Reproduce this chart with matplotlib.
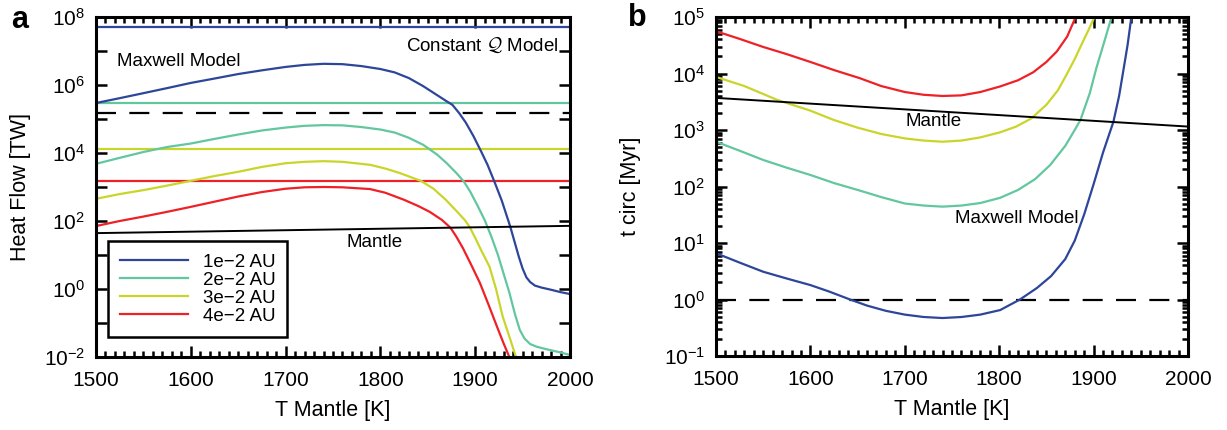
import matplotlib
matplotlib.use("Agg")
import matplotlib.pyplot as plt
from matplotlib.ticker import FixedLocator, MultipleLocator, LogLocator, NullFormatter, LogFormatterSciNotation
import numpy as np

plt.rcParams['font.family'] = ['Liberation Sans', 'DejaVu Sans']
plt.rcParams['mathtext.fontset'] = 'custom'
plt.rcParams['mathtext.rm'] = 'Liberation Sans'
plt.rcParams['mathtext.it'] = 'Liberation Sans:italic'
plt.rcParams['mathtext.bf'] = 'Liberation Sans:bold'

# ---------------- data ----------------
labels = ["1e\u22122 AU", "2e\u22122 AU", "3e\u22122 AU", "4e\u22122 AU"]
colors = ["#2d4699", "#62c79f", "#cad52a", "#ee2126"]

# Panel a: heat flow [TW]
const_q = [5.1e7, 2.9e5, 1.3e4, 1.5e3]
dashed_a = 1.5e5

T_a1 = [1500, 1525, 1550, 1575, 1600, 1625, 1650, 1675, 1700, 1720, 1740, 1760, 1780, 1800,
        1815, 1830, 1845, 1860, 1870, 1876, 1883, 1890, 1898, 1906, 1913, 1920, 1928, 1937,
        1942, 1946, 1950, 1954, 1958, 1963, 1970, 1980, 1990, 2000]
H_a1 = [2.95e5, 4.1e5, 5.75e5, 8.1e5, 1.15e6, 1.55e6, 2.1e6, 2.7e6, 3.4e6, 3.9e6, 4.2e6, 4.1e6,
        3.6e6, 2.95e6, 2.35e6, 1.6e6, 9.3e5, 5.0e5, 3.3e5, 2.6e5, 1.5e5, 7.9e4, 3.2e4, 1.15e4,
        4.5e3, 1.5e3, 400, 68, 22, 8.9, 4.0, 2.2, 1.6, 1.26, 1.1, 0.95, 0.81, 0.71]

T_a2 = [1500, 1525, 1550, 1575, 1600, 1625, 1650, 1675, 1700, 1720, 1740, 1760, 1780, 1800,
        1815, 1830, 1845, 1860, 1870, 1880, 1888, 1895, 1902, 1910, 1917, 1924, 1930, 1936,
        1942, 1947, 1952, 1958, 1965, 1975, 1988, 2000]
H_a2 = [4.8e3, 7.2e3, 1.07e4, 1.5e4, 1.9e4, 2.6e4, 3.5e4, 4.6e4, 5.6e4, 6.3e4, 6.6e4, 6.5e4,
        5.8e4, 4.9e4, 4.0e4, 2.8e4, 1.75e4, 8.9e3, 5.0e3, 2.6e3, 1.45e3, 710, 300, 107, 35, 10,
        2.8, 0.79, 0.18, 0.063, 0.035, 0.024, 0.02, 0.017, 0.014, 0.0115]

T_a3 = [1500, 1525, 1550, 1575, 1599, 1625, 1650, 1675, 1700, 1720, 1740, 1760, 1789, 1805,
        1820, 1843, 1856, 1869, 1880, 1889, 1894, 1900, 1907, 1915, 1922, 1929, 1936, 1943, 1946]
H_a3 = [450, 620, 810, 1.1e3, 1.5e3, 2.1e3, 2.8e3, 3.9e3, 5.0e3, 5.5e3, 5.75e3, 5.5e3, 4.5e3,
        3.5e3, 2.6e3, 1.5e3, 890, 420, 200, 107, 68, 32, 12.6, 4.6, 1.0, 0.155, 0.04, 0.01, 0.005]

T_a4 = [1500, 1525, 1550, 1575, 1599, 1625, 1650, 1675, 1700, 1720, 1740, 1760, 1789, 1805,
        1825, 1840, 1852, 1865, 1874, 1880, 1887, 1896, 1905, 1914, 1923, 1930, 1936, 1939]
H_a4 = [71, 100, 135, 186, 257, 370, 525, 710, 890, 980, 1.0e3, 980, 870, 680, 420, 275, 186,
        107, 63, 35, 16, 5.0, 1.5, 0.35, 0.078, 0.025, 0.01, 0.005]

T_mantle = [1500, 2000]
H_mantle = [44, 72]

# Panel b: circularisation time [Myr]
T_b1 = [1500, 1525, 1550, 1575, 1600, 1620, 1642, 1660, 1680, 1700, 1720, 1740, 1760, 1780,
        1801, 1822, 1840, 1855, 1870, 1880, 1890, 1900, 1910, 1921, 1927, 1932, 1936, 1940]
C_b1 = [6.6, 4.5, 3.1, 2.35, 1.8, 1.38, 1.0, 0.78, 0.63, 0.54, 0.49, 0.47, 0.49, 0.54, 0.65,
        1.0, 1.6, 2.6, 5.2, 11, 32, 110, 400, 1.4e3, 4.0e3, 1.26e4, 3.2e4, 1e5]

T_b2 = [1500, 1525, 1550, 1575, 1600, 1625, 1650, 1675, 1700, 1720, 1740, 1760, 1780, 1801,
        1820, 1838, 1854, 1870, 1880, 1886, 1896, 1903, 1911, 1919]
C_b2 = [620, 430, 295, 215, 160, 115, 87, 65, 50, 46, 44, 46, 51, 63, 87, 135, 240, 525, 1.0e3,
        1.5e3, 4.5e3, 1.26e4, 3.5e4, 1e5]

T_b3 = [1500, 1530, 1565, 1600, 1625, 1650, 1675, 1700, 1720, 1740, 1760, 1780, 1801, 1818,
        1834, 1850, 1862, 1871, 1880, 1887, 1894, 1901]
C_b3 = [8.7e3, 6.0e3, 3.4e3, 2.2e3, 1.5e3, 1.1e3, 850, 710, 650, 620, 650, 740, 910, 1.15e3,
        1.6e3, 2.8e3, 5.0e3, 9.3e3, 1.8e4, 3.2e4, 5.6e4, 1e5]

T_b4 = [1500, 1525, 1550, 1575, 1600, 1625, 1652, 1675, 1700, 1720, 1740, 1760, 1780, 1801,
        1820, 1836, 1850, 1861, 1872, 1881]
C_b4 = [5.6e4, 4.1e4, 2.95e4, 2.2e4, 1.6e4, 1.15e4, 8.3e3, 6.0e3, 4.7e3, 4.2e3, 4.0e3, 4.1e3,
        4.7e3, 5.9e3, 7.6e3, 1.05e4, 1.6e4, 2.45e4, 4.5e4, 1e5]

C_mantle = [3700, 1150]
dashed_b = 1.0

# ---------------- figure ----------------
fig = plt.figure(figsize=(12.27, 4.30), dpi=100)
ax1 = fig.add_axes([96/1227, 1-357/430, 474/1227, 340/430])
ax2 = fig.add_axes([716/1227, 1-356/430, 472/1227, 339/430])

lw = 1.6
# Panel a
for c, q in zip(colors, const_q):
    ax1.axhline(q, color=c, lw=lw)
ax1.axhline(dashed_a, color='black', lw=1.6, ls=(0, (9, 6)))
handles = []
for T, H, c, lab in zip([T_a1, T_a2, T_a3, T_a4], [H_a1, H_a2, H_a3, H_a4], colors, labels):
    h, = ax1.plot(T, H, color=c, lw=lw, label=lab, solid_joinstyle='round')
    handles.append(h)
ax1.plot(T_mantle, H_mantle, color='black', lw=1.4)

ax1.set_yscale('log')
ax1.set_xlim(1500, 2000)
ax1.set_ylim(1e-2, 1e8)
ax1.yaxis.set_major_locator(FixedLocator([10.0**k for k in range(-2, 9, 2)]))
ax1.yaxis.set_minor_locator(FixedLocator([10.0**k for k in range(-1, 8, 2)]))
ax1.yaxis.set_major_formatter(LogFormatterSciNotation())
ax1.yaxis.set_minor_formatter(NullFormatter())

ax1.text(0.175, 0.868, "Maxwell Model", transform=ax1.transAxes, ha='center', va='center', fontsize=13.5)
ax1.text(0.975, 0.918, r"Constant $\mathcal{Q}$ Model", transform=ax1.transAxes, ha='right', va='center',
         fontsize=13.5, math_fontfamily='cm')
ax1.text(0.587, 0.338, "Mantle", transform=ax1.transAxes, ha='center', va='center', fontsize=13.5)

leg = ax1.legend(handles=handles, loc='lower left', bbox_to_anchor=(0.025, 0.059), borderaxespad=0,
                 fontsize=13.5, frameon=True, fancybox=False, handlelength=3.6, handletextpad=0.8,
                 labelspacing=0.05, borderpad=0.65)
leg.get_frame().set_edgecolor('black')
leg.get_frame().set_linewidth(1.8)
leg.get_frame().set_alpha(1)

# Panel b
ax2.axhline(dashed_b, color='black', lw=1.6, ls=(0, (9, 6)))
for T, C, c in zip([T_b1, T_b2, T_b3, T_b4], [C_b1, C_b2, C_b3, C_b4], colors):
    ax2.plot(T, C, color=c, lw=lw, solid_joinstyle='round')
ax2.plot(T_mantle, C_mantle, color='black', lw=1.4)
ax2.set_yscale('log')
ax2.set_xlim(1500, 2000)
ax2.set_ylim(1e-1, 1e5)
ax2.yaxis.set_major_locator(LogLocator(base=10, numticks=20))
ax2.yaxis.set_minor_locator(LogLocator(base=10, subs=np.arange(2, 10), numticks=20))
ax2.yaxis.set_minor_formatter(NullFormatter())
ax2.text(0.46, 0.693, "Mantle", transform=ax2.transAxes, ha='center', va='center', fontsize=13.5)
ax2.text(0.638, 0.407, "Maxwell Model", transform=ax2.transAxes, ha='center', va='center', fontsize=13.5)

for ax in (ax1, ax2):
    ax.xaxis.set_major_locator(MultipleLocator(100))
    ax.xaxis.set_minor_locator(MultipleLocator(10))
    for s in ax.spines.values():
        s.set_linewidth(2.2)
    ax.tick_params(which='both', direction='in', top=True, right=True, width=1.8, labelsize=15)
    ax.tick_params(which='major', length=8)
    ax.tick_params(which='minor', length=4)
    ax.tick_params(axis='x', pad=10)
    ax.tick_params(axis='y', pad=8)
    ax.set_xlabel("T Mantle [K]", fontsize=15.5, labelpad=7)

ax1.tick_params(axis='y', which='minor', length=8)
ax1.set_ylabel("Heat Flow [TW]", fontsize=15.5, labelpad=9)
ax2.set_ylabel("t circ [Myr]", fontsize=15.5, labelpad=16)

fig.text(20/1227, 1-20/430, "a", fontsize=22, fontweight='bold', ha='center', va='center')
fig.text(637/1227, 1-18/430, "b", fontsize=22, fontweight='bold', ha='center', va='center')

fig.savefig("out.png", dpi=100)
